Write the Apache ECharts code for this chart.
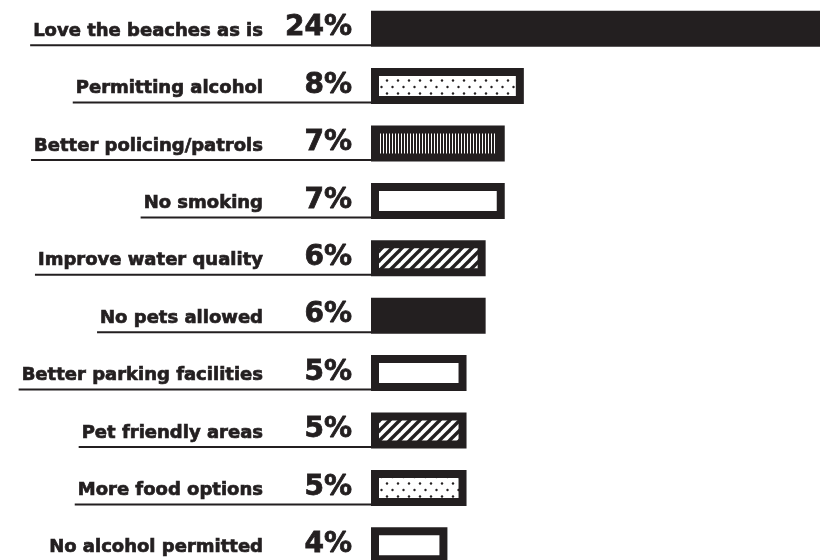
<!DOCTYPE html>
<html><head><meta charset="utf-8">
<script src="https://cdn.jsdelivr.net/npm/echarts@6/dist/echarts.min.js"></script>
<style>html,body{margin:0;padding:0;background:#fff}#c{width:820px;height:560px}</style>
</head><body><div id="c"></div>
<script>
const categories = ['Love the beaches as is','Permitting alcohol','Better policing/patrols','No smoking','Improve water quality','No pets allowed','Better parking facilities','Pet friendly areas','More food options','No alcohol permitted'];
const values = [24, 8, 7, 7, 6, 6, 5, 5, 5, 4];
const valueLabels = ['24%','8%','7%','7%','6%','6%','5%','5%','5%','4%'];
const fillKinds = ['solid','dots','vstripes','blank','hatch','solid','blank','hatch','dots','blank'];

const INK = '#231f20';
const NAME_FONT = 'bold 18px "DejaVu Sans"';
const PCT_FONT = 'bold 28px "DejaVu Sans"';

function makeCanvas(w, h){ const c = document.createElement('canvas'); c.width = w; c.height = h; const g = c.getContext('2d'); g.fillStyle = '#fff'; g.fillRect(0,0,w,h); return [c, g]; }
function makePattern(kind){
  if (kind === 'dots'){
    const [c,g] = makeCanvas(11, 13); g.fillStyle = INK;
    g.beginPath(); g.arc(2, 2.5, 1.2, 0, Math.PI*2); g.fill();
    g.beginPath(); g.arc(7.5, 9, 1.2, 0, Math.PI*2); g.fill();
    return {image: c, repeat: 'repeat'};
  }
  if (kind === 'vstripes'){
    const [c,g] = makeCanvas(3, 4); g.fillStyle = INK;
    g.fillRect(0,0,2,4);
    return {image: c, repeat: 'repeat'};
  }
  if (kind === 'hatch'){
    const [c,g] = makeCanvas(10, 10); g.strokeStyle = INK; g.lineWidth = 3.4;
    [[0,10,10,0],[-5,5,5,-5],[5,15,15,5]].forEach(l => { g.beginPath(); g.moveTo(l[0],l[1]); g.lineTo(l[2],l[3]); g.stroke(); });
    return {image: c, repeat: 'repeat'};
  }
  if (kind === 'blank') return '#fff';
  return INK;
}
const patterns = {};
['dots','vstripes','hatch','blank','solid'].forEach(k => patterns[k] = makePattern(k));

const measureCtx = document.createElement('canvas').getContext('2d');
function textWidth(t, font){ measureCtx.font = font; return measureCtx.measureText(t).width; }

const BAR_H = 36, BORDER = 8;

function renderBar(params, api){
  const v = api.value(0), i = api.value(1);
  const p0 = api.coord([0, i]), p1 = api.coord([v, i]);
  const x = p0[0], y = p0[1] - BAR_H/2, w = p1[0] - p0[0];
  const kind = fillKinds[params.dataIndex];
  const children = [{type:'rect', shape:{x:x, y:y, width:w, height:BAR_H}, style:{fill: INK}}];
  if (kind !== 'solid') children.push({type:'rect', shape:{x:x+BORDER, y:y+BORDER, width:w-2*BORDER, height:BAR_H-2*BORDER}, style:{fill: patterns[kind]}});
  return {type:'group', children};
}

function renderLabel(params, api){
  const i = api.value(1);
  const p0 = api.coord([0, i]);
  const cy = p0[1];
  const name = categories[params.dataIndex];
  const nameRight = p0[0] - 108, pctRight = p0[0] - 19;
  const nw = textWidth(name, NAME_FONT);
  return {type:'group', children:[
    {type:'line', shape:{x1: nameRight - nw - 3, y1: cy + 16.5, x2: p0[0], y2: cy + 16.5}, style:{stroke: INK, lineWidth: 2}},
    {type:'text', style:{text: name, x: nameRight, y: cy + 2.5, align:'right', verticalAlign:'middle', font: NAME_FONT, fill: INK, stroke: INK, lineWidth: 0.7}},
    {type:'text', style:{text: valueLabels[params.dataIndex], x: pctRight, y: cy - 0.5, align:'right', verticalAlign:'middle', font: PCT_FONT, fill: INK, stroke: INK, lineWidth: 0.8}}
  ]};
}

const chart = echarts.init(document.getElementById('c'), null, {renderer:'canvas'});
const data = values.map((v, i) => [v, i]);
chart.setOption({
  animation: false,
  backgroundColor: '#fff',
  grid: {left: 371, top: 28.7, right: 0, height: 516.6, containLabel: false},
  xAxis: {type:'value', min: 0, max: 23.5, show: false},
  yAxis: {type:'category', data: categories, inverse: true, boundaryGap: false, show: false},
  series: [
    {type:'custom', renderItem: renderBar, data: data, encode:{x:0, y:1}, clip: false},
    {type:'custom', renderItem: renderLabel, data: data, encode:{x:0, y:1}, clip: false}
  ]
});
</script>
</body></html>
